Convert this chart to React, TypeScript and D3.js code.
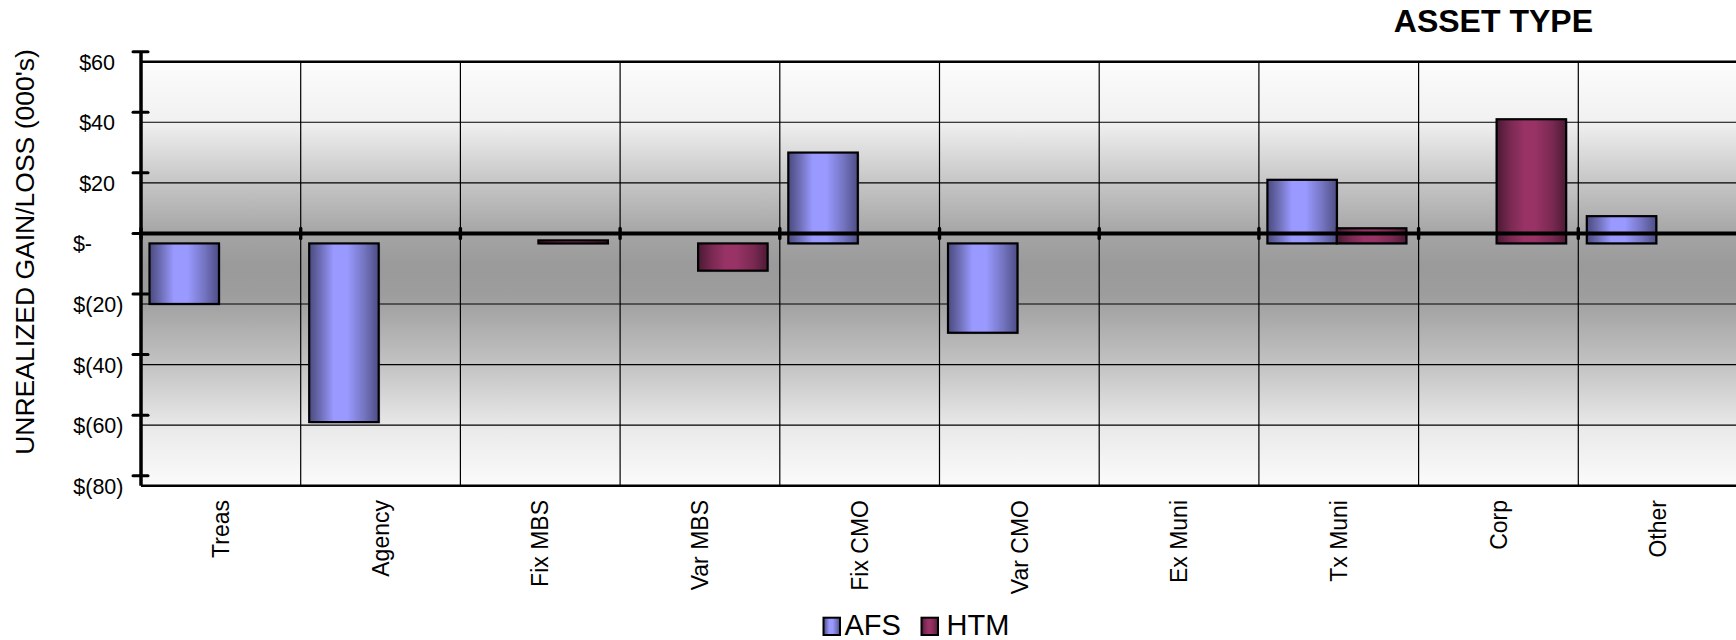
import React from "react";
import * as d3 from "d3";

const categories = ["Treas", "Agency", "Fix MBS", "Var MBS", "Fix CMO", "Var CMO", "Ex Muni", "Tx Muni", "Corp", "Other"];
const seriesNames = ["AFS", "HTM"];
const afsValues = [-20, -59, 0, 0, 30, -29.5, 0, 21, 0, 9];
const htmValues = [0, 0, 1, -9, 0, 0, 0, 5, 41, 0];
const yTicks = [60, 40, 20, 0, -20, -40, -60, -80];
const yTickLabels = ["$60", "$40", "$20", "$-", "$(20)", "$(40)", "$(60)", "$(80)"];
const title = "ASSET TYPE";
const yTitle = "UNREALIZED GAIN/LOSS (000's)";

const W = 1736;
const H = 640;
const FONT = "'Liberation Sans', Arial, sans-serif";

export default function App() {
  const left = 141;
  const catW = 159.7;
  const top = 61.7;
  const bottom = 485.7;
  const front = 10; // front-plane offset of axes (3D look)

  const x = d3.scaleBand().domain(categories).range([left, left + catW * categories.length]);
  const xs = d3.scaleBand().domain(seriesNames).range([8.5, 147.5]);
  const y = d3.scaleLinear().domain([-80, 60]).range([bottom, top]);

  const seriesData = [afsValues, htmValues];
  const fills = ["url(#gAFS)", "url(#gHTM)"];

  const bars: { key: string; x: number; w: number; y0: number; y1: number; fill: string }[] = [];
  seriesData.forEach((vals, si) => {
    vals.forEach((v, ci) => {
      if (v === 0) return;
      const cx = (x(categories[ci]) as number) + (xs(seriesNames[si]) as number);
      const ya = y(v);
      const yb = y(0);
      bars.push({
        key: `${si}-${ci}`,
        x: cx,
        w: xs.bandwidth(),
        y0: Math.min(ya, yb),
        y1: Math.max(ya, yb),
        fill: fills[si],
      });
    });
  });

  const gridYs = yTicks.filter((v) => v !== 60 && v !== -80 && v !== 0);
  const boundaries = categories.slice(1).map((c) => x(c) as number);
  const zeroFront = y(0) - front;

  const legendBoxX = [823.5, 921.5];
  const legendTextX = [844.5, 946.5];

  return (
    <svg width={W} height={H} style={{ position: "absolute", left: 0, top: 0 }} fontFamily={FONT}>
      <defs>
        <linearGradient id="wall" gradientUnits="userSpaceOnUse" x1="0" x2="0" y1={top} y2={bottom}>
          <stop offset="0" stopColor="#fcfcfc" />
          <stop offset="0.14" stopColor="#f1f1f1" />
          <stop offset="0.29" stopColor="#c4c4c4" />
          <stop offset="0.41" stopColor="#a4a4a4" />
          <stop offset="0.48" stopColor="#9a9a9a" />
          <stop offset="0.55" stopColor="#9d9d9d" />
          <stop offset="0.72" stopColor="#c4c4c4" />
          <stop offset="0.86" stopColor="#e9e9e9" />
          <stop offset="1" stopColor="#fbfbfb" />
        </linearGradient>
        <linearGradient id="gAFS" x1="0" x2="1" y1="0" y2="0">
          <stop offset="0" stopColor="#4a4a80" />
          <stop offset="0.15" stopColor="#6a6ab0" />
          <stop offset="0.35" stopColor="#9999ff" />
          <stop offset="0.55" stopColor="#9999ff" />
          <stop offset="0.8" stopColor="#7373bf" />
          <stop offset="1" stopColor="#4d4d85" />
        </linearGradient>
        <linearGradient id="gHTM" x1="0" x2="1" y1="0" y2="0">
          <stop offset="0" stopColor="#4a1a33" />
          <stop offset="0.2" stopColor="#7a2952" />
          <stop offset="0.4" stopColor="#993366" />
          <stop offset="0.55" stopColor="#993366" />
          <stop offset="0.8" stopColor="#7a2952" />
          <stop offset="1" stopColor="#4d1a35" />
        </linearGradient>
      </defs>

      {/* wall */}
      <rect x={left} y={top} width={W - left} height={bottom - top} fill="url(#wall)" />

      {/* horizontal gridlines */}
      {gridYs.map((v) => (
        <line key={`gy${v}`} x1={left} x2={W} y1={y(v)} y2={y(v)} stroke="#000" strokeWidth={1.2} />
      ))}
      {/* vertical gridlines */}
      {boundaries.map((bx, i) => (
        <line key={`gx${i}`} x1={bx} x2={bx} y1={top} y2={bottom} stroke="#000" strokeWidth={1.2} />
      ))}
      {/* borders */}
      <line x1={left} x2={W} y1={top} y2={top} stroke="#000" strokeWidth={2.6} />
      <line x1={left} x2={W} y1={bottom} y2={bottom} stroke="#000" strokeWidth={2.6} />

      {/* bars */}
      {bars.map((b) => (
        <g key={b.key}>
          <rect x={b.x + 1.5} y={b.y0 + 1.5} width={b.w} height={b.y1 - b.y0} fill="#5a5a99" opacity={0.35} />
          <rect x={b.x} y={b.y0} width={b.w} height={b.y1 - b.y0} fill={b.fill} stroke="#000" strokeWidth={2.2} />
        </g>
      ))}

      {/* zero (category) axis, front plane */}
      <line x1={left} x2={W} y1={zeroFront} y2={zeroFront} stroke="#000" strokeWidth={4} />
      {[left, ...boundaries].map((bx, i) => (
        <line key={`ct${i}`} x1={bx} x2={bx} y1={zeroFront - 5} y2={zeroFront + 5} stroke="#000" strokeWidth={3.4} strokeLinecap="round" />
      ))}

      {/* value axis */}
      <line x1={left} x2={left} y1={y(60) - front} y2={bottom} stroke="#000" strokeWidth={3.5} />
      {yTicks.map((v) => (
        <line key={`yt${v}`} x1={133} x2={148} y1={y(v) - front} y2={y(v) - front} stroke="#000" strokeWidth={3} strokeLinecap="round" />
      ))}
      {yTicks.map((v, i) => (
        <text
          key={`yl${v}`}
          x={v < 0 ? 123.5 : v > 0 ? 115 : 92}
          y={y(v) + 1}
          textAnchor="end"
          dominantBaseline="central"
          fontSize={21.5}
          fill="#000"
        >
          {yTickLabels[i]}
        </text>
      ))}

      {/* category labels */}
      {categories.map((c) => {
        const cx = (x(c) as number) + x.bandwidth() / 2 + 8.2;
        const ty = 500;
        return (
          <text key={`cl${c}`} x={cx} y={ty} transform={`rotate(-90 ${cx} ${ty})`} textAnchor="end" fontSize={23} fill="#000">
            {c}
          </text>
        );
      })}

      {/* axis title */}
      <text x={33.5} y={252} transform={`rotate(-90 33.5 252)`} textAnchor="middle" fontSize={26.5} fill="#000">
        {yTitle}
      </text>

      {/* chart title */}
      <text x={1493.4} y={31.7} textAnchor="middle" fontSize={32} fontWeight="bold" fill="#000">
        {title}
      </text>

      {/* legend */}
      {seriesNames.map((s, i) => (
        <g key={`lg${s}`}>
          <rect x={legendBoxX[i]} y={617.7} width={16.5} height={17.3} fill={fills[i]} stroke="#000" strokeWidth={2} />
          <text x={legendTextX[i]} y={634.6} fontSize={29} fill="#000">
            {s}
          </text>
        </g>
      ))}
    </svg>
  );
}
